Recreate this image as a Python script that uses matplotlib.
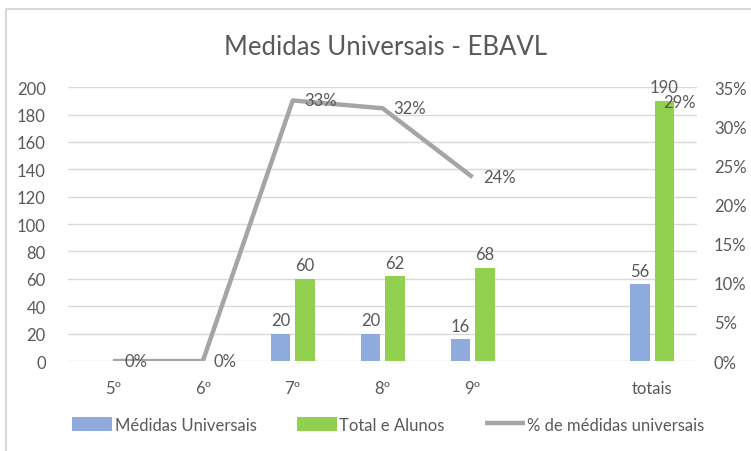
import matplotlib
matplotlib.use("Agg")
import matplotlib.pyplot as plt
from matplotlib.patches import Rectangle
from matplotlib.ticker import PercentFormatter
import numpy as np

# data
anos = ['5º', '6º', '7º', '8º', '9º', '', 'totais']
medidas = [np.nan, np.nan, 20, 20, 16, np.nan, 56]
total_alunos = [np.nan, np.nan, 60, 62, 68, np.nan, 190]
pct_medidas = [0.0, 0.0, 0.333, 0.323, 0.235, np.nan, 0.295]
pct_labels = ['0%', '0%', '33%', '32%', '24%', '', '29%']

plt.rcParams['font.family'] = ['Lato', 'DejaVu Sans']
txt = '#595959'
azul = '#8faadc'
verde = '#92d050'
cinza = '#a5a5a5'

fig = plt.figure(figsize=(7.51, 4.52), dpi=100)
ax = fig.add_axes([0.0905, 0.199, 0.838, 0.606])
ax2 = ax.twinx()

x = np.arange(len(anos))
w = 0.22
b1 = ax.bar(x - 0.135, medidas, w, color=azul, label='Médidas Universais', zorder=3)
b2 = ax.bar(x + 0.135, total_alunos, w, color=verde, label='Total e Alunos', zorder=3)

for xi, v in zip(x, medidas):
    if not np.isnan(v):
        ax.annotate('%d' % v, (xi - 0.135, v), xytext=(0, 4), textcoords='offset points',
                    ha='center', va='bottom', fontsize=12, color=txt)
for xi, v in zip(x, total_alunos):
    if not np.isnan(v):
        ax.annotate('%d' % v, (xi + 0.135, v), xytext=(0, 4), textcoords='offset points',
                    ha='center', va='bottom', fontsize=12, color=txt)

ln, = ax2.plot(x, pct_medidas, color=cinza, lw=3.2, solid_capstyle='butt',
               label='% de médidas universais', zorder=4)
for xi, v, lab in zip(x, pct_medidas, pct_labels):
    if lab == '':
        continue
    dy = 0
    if lab == '29%':
        dy = 20  # label was moved up in the original
    ax2.annotate(lab, (xi, v), xytext=(8, dy), textcoords='offset points',
                 ha='left', va='center', fontsize=12, color=txt, zorder=5)

ax.set_xlim(-0.5, 6.5)
ax.set_ylim(0, 200)
ax.set_yticks(range(0, 201, 20))
ax2.set_ylim(0, 0.35)
ax2.set_yticks(np.arange(0, 0.351, 0.05))
ax2.yaxis.set_major_formatter(PercentFormatter(1.0, decimals=0))
ax.set_xticks(x)
ax.set_xticklabels(anos)

ax.grid(axis='y', color='#d9d9d9', lw=1, zorder=0)
ax.set_axisbelow(True)
for a in (ax, ax2):
    for s in a.spines.values():
        s.set_visible(False)
    a.tick_params(length=0, colors=txt, labelsize=12)
ax.tick_params(axis='y', pad=16)
ax2.tick_params(axis='y', pad=12)
ax.tick_params(axis='x', pad=14)
ax.set_zorder(ax2.get_zorder() - 1)
ax.patch.set_visible(False)

fig.text(0.513, 0.896, 'Medidas Universais - EBAVL', ha='center', va='center',
         fontsize=18.5, color=txt)

fig.legend(handles=[b1, b2, ln], loc='center', bbox_to_anchor=(0.517, 0.058), ncol=3,
           frameon=False, fontsize=12, labelcolor=txt, handlelength=2.4,
           handletextpad=0.15, columnspacing=2.4, handleheight=0.9)

fig.patches.append(Rectangle((6 / 751, -0.1), 1.2, 1 - 10 / 452 + 0.1, transform=fig.transFigure,
                             fill=False, edgecolor='#d9d9d9', lw=1.5))

fig.savefig('out.png', dpi=100)
